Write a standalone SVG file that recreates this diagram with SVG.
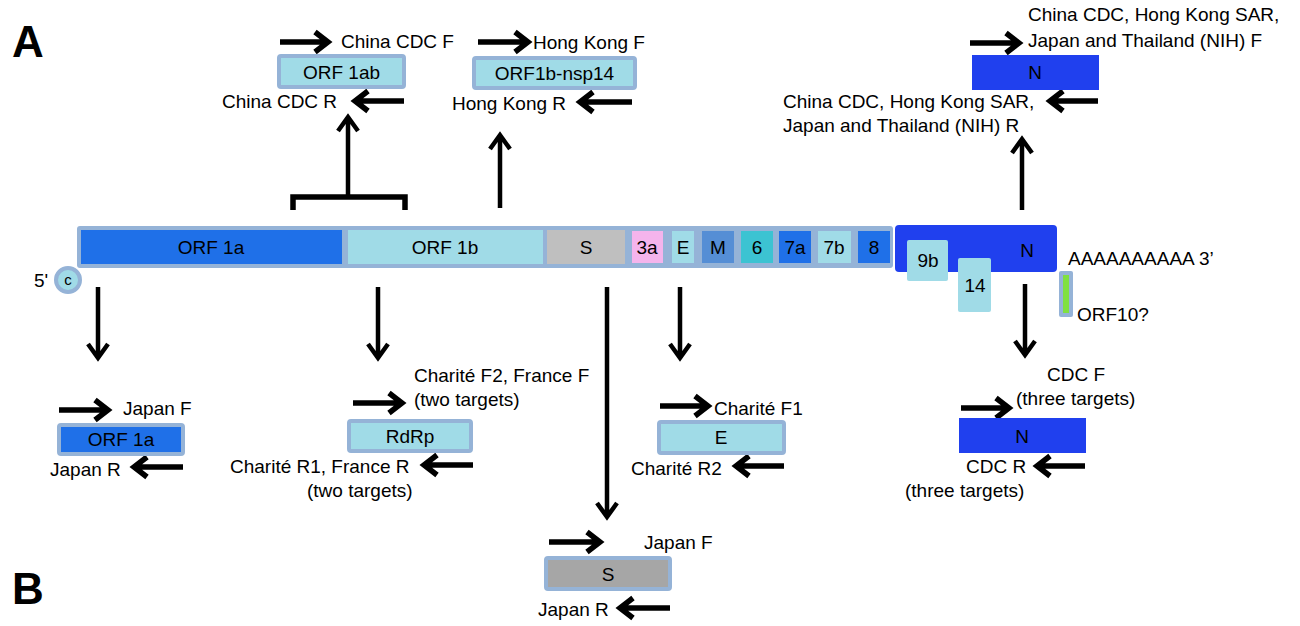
<svg xmlns="http://www.w3.org/2000/svg" width="1300" height="626" viewBox="0 0 1300 626">
<style>
text{font-family:"Liberation Sans",Arial,sans-serif;font-size:19px;fill:#000}
.m{text-anchor:middle}
.big{font-size:44px;font-weight:bold}
.arr{fill:none;stroke:#000;stroke-width:5.5}
.varr{fill:none;stroke:#000;stroke-width:4.5}
.bx{stroke:#95b3d7;stroke-width:4}
.lb{fill:#a0dbe7}
.db{fill:#1f70e8}
.nb{fill:#2040ee}
</style>
<rect width="1300" height="626" fill="#fff"/>
<text class="big" x="12" y="57">A</text>
<text class="big" x="12" y="604">B</text>

<g id="connectors">
<path class="arr" d="M280,42H326M315,32L328,42L315,52"/>
<path class="arr" d="M478,42H526M515,32L528,42L515,52"/>
<path class="arr" d="M970,43H1017M1006,33L1019,43L1006,53"/>
<path class="arr" d="M59,410H106M95,400L108,410L95,420"/>
<path class="arr" d="M353,403H400M389,393L402,403L389,413"/>
<path class="arr" d="M660,406H706M695,396L708,406L695,416"/>
<path class="arr" d="M961,408H1007M996,398L1009,408L996,418"/>
<path class="arr" d="M549,542H597M587,532L600,542L587,552"/>
<path class="arr" d="M404,101H357M368,91L355,101L368,111"/>
<path class="arr" d="M632,102H582M593,92L580,102L593,112"/>
<path class="arr" d="M1098,101H1052M1063,91L1050,101L1063,111"/>
<path class="arr" d="M183,467H136M147,457L134,467L147,477"/>
<path class="arr" d="M473,465H426M437,455L424,465L437,475"/>
<path class="arr" d="M784,466H738M749,456L736,466L749,476"/>
<path class="arr" d="M1085,466H1039M1050,456L1037,466L1050,476"/>
<path class="arr" d="M670,608H622M633,598L620,608L633,618"/>
<path class="arr" d="M293,210V197H405V210"/>
<path class="varr" d="M348,197V118M338,131L348,117L358,131"/>
<path class="varr" d="M500,208V136M490,149L500,135L510,149"/>
<path class="varr" d="M1022,210V140M1012,153L1022,139L1032,153"/>
<path class="varr" d="M98,287V357M88,344L98,358L108,344"/>
<path class="varr" d="M378,287V357M368,344L378,358L388,344"/>
<path class="varr" d="M607,287V516M597,503L607,517L617,503"/>
<path class="varr" d="M680,287V357M670,344L680,358L690,344"/>
<path class="varr" d="M1025,284V354M1015,341L1025,355L1035,341"/>
</g>

<g id="top-orf1ab">
<rect class="bx lb" x="279" y="56" width="125" height="31" rx="2"/>
<text class="m" x="341.5" y="79">ORF 1ab</text>
<text x="341" y="48">China CDC F</text>
<text x="222" y="108">China CDC R</text>
</g>
<g id="top-nsp14">
<rect class="bx lb" x="474" y="58" width="161" height="30" rx="2"/>
<text class="m" x="554.5" y="80">ORF1b-nsp14</text>
<text x="533" y="49">Hong Kong F</text>
<text x="452" y="110">Hong Kong R</text>
</g>
<g id="top-n">
<rect class="nb" x="972" y="55" width="127" height="35"/>
<text class="m" x="1035" y="79">N</text>
<text x="1028" y="21">China CDC, Hong Kong SAR,</text>
<text x="1028" y="47">Japan and Thailand (NIH) F</text>
<text x="783" y="108">China CDC, Hong Kong SAR,</text>
<text x="783" y="132">Japan and Thailand (NIH) R</text>
</g>

<g id="genome">
<rect x="77" y="226" width="816" height="42" rx="3" fill="#95b3d7"/>
<rect class="db" x="81" y="230" width="261" height="34"/>
<rect class="lb" x="348" y="230" width="195" height="34"/>
<rect x="547" y="230" width="78" height="34" fill="#bfbfbf"/>
<rect x="632" y="231" width="31" height="32" fill="#f4b4ec"/>
<rect class="lb" x="672" y="231" width="22" height="32"/>
<rect x="702" y="231" width="32" height="32" fill="#558ed5"/>
<rect x="741" y="231" width="32" height="32" fill="#3cc3d2"/>
<rect class="db" x="779" y="231" width="32" height="32"/>
<rect class="lb" x="818" y="231" width="33" height="32"/>
<rect class="db" x="858" y="231" width="32" height="32"/>
<rect class="nb" x="895" y="225" width="162" height="47" rx="4"/>
<rect class="lb" x="907" y="240" width="41" height="41" rx="2"/>
<rect class="lb" x="958" y="258" width="33" height="54" rx="2"/>
<text class="m" x="211" y="254">ORF 1a</text>
<text class="m" x="445" y="254">ORF 1b</text>
<text class="m" x="586" y="254">S</text>
<text class="m" x="647" y="254">3a</text>
<text class="m" x="683" y="254">E</text>
<text class="m" x="718" y="254">M</text>
<text class="m" x="757" y="254">6</text>
<text class="m" x="795" y="254">7a</text>
<text class="m" x="834" y="254">7b</text>
<text class="m" x="874" y="254">8</text>
<text class="m" x="1027" y="257">N</text>
<text class="m" x="928" y="267">9b</text>
<text class="m" x="975" y="292">14</text>
<text x="1068" y="265">AAAAAAAAAA 3’</text>
<rect x="1059" y="271" width="14" height="46" rx="2" fill="#95b3d7"/>
<rect x="1063" y="275" width="6" height="38" fill="#80e040"/>
<text x="1077" y="321">ORF10?</text>
<circle cx="68" cy="280" r="12" class="bx lb"/>
<text class="m" x="68" y="285" style="font-size:15px">c</text>
<text x="34" y="287">5'</text>
</g>

<g id="bottom-orf1a">
<rect class="bx db" x="59" y="425" width="124" height="29" rx="2"/>
<text class="m" x="121" y="446">ORF 1a</text>
<text x="123" y="415">Japan F</text>
<text x="50" y="476">Japan R</text>
</g>
<g id="bottom-rdrp">
<rect class="bx lb" x="349" y="421" width="122" height="30" rx="2"/>
<text class="m" x="410" y="443">RdRp</text>
<text x="414" y="382">Charité F2, France F</text>
<text x="414" y="406">(two targets)</text>
<text x="230" y="473">Charité R1, France R</text>
<text x="307" y="497">(two targets)</text>
</g>
<g id="bottom-e">
<rect class="bx lb" x="659" y="422" width="125" height="31" rx="2"/>
<text class="m" x="721" y="444">E</text>
<text x="714" y="415">Charité F1</text>
<text x="631" y="475">Charité R2</text>
</g>
<g id="bottom-n">
<rect class="nb" x="959" y="418" width="127" height="35"/>
<text class="m" x="1022" y="443">N</text>
<text x="1047" y="381">CDC F</text>
<text x="1016" y="405">(three targets)</text>
<text x="966" y="473">CDC R</text>
<text x="905" y="497">(three targets)</text>
</g>
<g id="bottom-s">
<rect class="bx" x="546" y="558" width="124" height="31" rx="2" fill="#a6a6a6"/>
<text class="m" x="608" y="581">S</text>
<text x="644" y="549">Japan F</text>
<text x="538" y="616">Japan R</text>
</g>
</svg>
